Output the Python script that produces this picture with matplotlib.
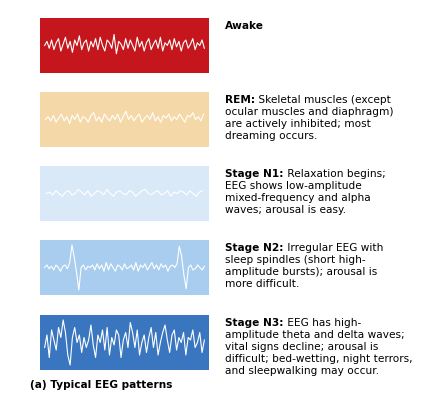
import matplotlib.pyplot as plt

# trace samples (arbitrary units)
awake = [0.0, 0.15, -0.1, 0.2, -0.15, 0.1, 0.25, -0.2, 0.05, 0.3, -0.1, 0.15, -0.25, 0.2, 0.0, 0.35,
         -0.15, 0.1, 0.2, -0.2, 0.15, -0.05, 0.25, -0.15, 0.3, 0.0, -0.2, 0.2, 0.1, -0.1, 0.4, -0.3,
         0.15, 0.05, -0.15, 0.25, -0.1, 0.2, 0.0, -0.2, 0.3, -0.05, 0.15, -0.2, 0.1, 0.25, -0.15,
         0.05, 0.2, -0.1, 0.3, -0.2, 0.1, 0.0, 0.2, -0.15, 0.25, -0.05, 0.15, -0.2, 0.1, 0.2, -0.1,
         0.05, 0.25, -0.15, 0.1, 0.0, 0.2, -0.1]
rem = [0.0, 0.1, -0.05, 0.15, -0.1, 0.05, 0.2, -0.05, 0.1, -0.15, 0.15, 0.0, 0.2, -0.1, 0.1, 0.05,
       -0.1, 0.15, 0.25, -0.05, 0.1, -0.1, 0.2, 0.05, -0.05, 0.15, 0.0, 0.2, -0.1, 0.1, 0.3, 0.0,
       0.15, -0.05, 0.1, 0.2, -0.1, 0.05, 0.15, 0.0, 0.25, -0.05, 0.1, -0.1, 0.15, 0.05, 0.2,
       -0.05, 0.1, 0.0, 0.2, 0.05, -0.1, 0.15, 0.1, 0.25, 0.0, 0.1, -0.05, 0.2]
n1 = [0.0, 0.05, -0.05, 0.1, 0.0, -0.1, 0.05, 0.1, -0.05, 0.0, 0.15, 0.05, -0.05, 0.1, -0.1,
      0.0, 0.1, 0.05, -0.05, 0.15, 0.0, -0.1, 0.05, 0.1, 0.0, -0.05, 0.1, 0.05, -0.1, 0.0, 0.1,
      0.15, 0.0, -0.05, 0.05, 0.1, -0.05, 0.0, 0.1, -0.1, 0.05, 0.0, 0.1, 0.05, -0.05, 0.1, 0.0,
      -0.1, 0.05, 0.1]
n2 = [0.0, 0.1, -0.05, 0.05, -0.1, 0.1, 0.0, -0.15, 0.05, 0.1, -0.05, 0.2, 0.9, 0.4, -0.2,
      -0.9, 0.0, 0.1, -0.1, 0.05, 0.0, 0.1, -0.1, 0.15, -0.05, 0.1, -0.15, 0.2, -0.1, 0.15, 0.0,
      -0.15, 0.1, 0.05, -0.1, 0.15, -0.05, 0.0, 0.1, -0.1, 0.2, -0.15, 0.1, 0.0, 0.15, -0.1, 0.05,
      0.2, -0.05, 0.1, -0.1, 0.15, 0.0, 0.1, -0.15, 0.05, 0.1, 0.0, 0.15, 0.85, 0.45, -0.3, -0.85,
      0.0, 0.1, -0.1, -0.05, 0.1, 0.0, -0.1, 0.05]
n3 = [-0.2, 0.3, -0.6, 0.5, 0.1, -0.3, 0.6, 0.2, 0.9, 0.4, -0.5, -0.9, 0.2, 0.6, 0.0, 0.3,
      -0.4, 0.2, -0.2, 0.1, 0.7, -0.1, -0.6, 0.3, 0.0, 0.5, -0.3, 0.6, -0.5, 0.2, -0.1, 0.5, 0.3,
      -0.6, 0.1, 0.4, -0.2, 0.8, 0.4, -0.2, 0.5, -0.5, 0.0, 0.3, -0.4, 0.2, 0.6, -0.2, 0.4,
      -0.5, 0.0, 0.4, 0.7, 0.1, -0.4, 0.3, 0.5, -0.3, 0.2, 0.0, 0.4, -0.5, 0.2, 0.1, 0.5, -0.2,
      0.0, 0.4, -0.4, 0.1]

traces = [awake, rem, n1, n2, n3]
backgrounds = ['#c4161c', '#f5d8a7', '#d9e9f8', '#a8cdee', '#3a76bf']
bold_heads = ['Awake', 'REM:', 'Stage N1:', 'Stage N2:', 'Stage N3:']
bodies = [
    [''],
    [' Skeletal muscles (except', 'ocular muscles and diaphragm)', 'are actively inhibited; most', 'dreaming occurs.'],
    [' Relaxation begins;', 'EEG shows low-amplitude', 'mixed-frequency and alpha', 'waves; arousal is easy.'],
    [' Irregular EEG with', 'sleep spindles (short high-', 'amplitude bursts); arousal is', 'more difficult.'],
    [' EEG has high-', 'amplitude theta and delta waves;', 'vital signs decline; arousal is',
     'difficult; bed-wetting, night terrors,', 'and sleepwalking may occur.'],
]
amps = [0.35, 0.35, 0.35, 1.0, 1.0]

W, H = 431, 400
fig = plt.figure(figsize=(W / 100, H / 100), dpi=100)
fig.patch.set_facecolor('white')
tops = [18, 92, 166, 240, 315]
ph = 55
fs = 7.6
for i, tr in enumerate(traces):
    ax = fig.add_axes([40 / W, 1 - (tops[i] + ph) / H, 169 / W, ph / H])
    ax.set_facecolor(backgrounds[i])
    for s in ax.spines.values():
        s.set_visible(False)
    ax.set_xticks([])
    ax.set_yticks([])
    ax.plot(range(len(tr)), tr, color='white', lw=0.8)
    ax.set_xlim(-2, len(tr) + 1)
    lim = 1.1 if amps[i] == 1.0 else 1.0
    ax.set_ylim(-lim, lim)

fig.canvas.draw()
r = fig.canvas.get_renderer()
for i in range(5):
    y0 = tops[i] + 3
    t = fig.text(225 / W, 1 - y0 / H, bold_heads[i], fontsize=fs, fontweight='bold', va='top')
    bb = t.get_window_extent(r)
    for j, line in enumerate(bodies[i]):
        x = bb.x1 / fig.dpi / fig.get_figwidth() if j == 0 else 225 / W
        fig.text(x, 1 - (y0 + j * 12) / H, line, fontsize=fs, va='top')

fig.text(30 / W, 1 - 385 / H, '(a) Typical EEG patterns', fontsize=fs, fontweight='bold', va='center')
fig.savefig('out.png', dpi=100)
